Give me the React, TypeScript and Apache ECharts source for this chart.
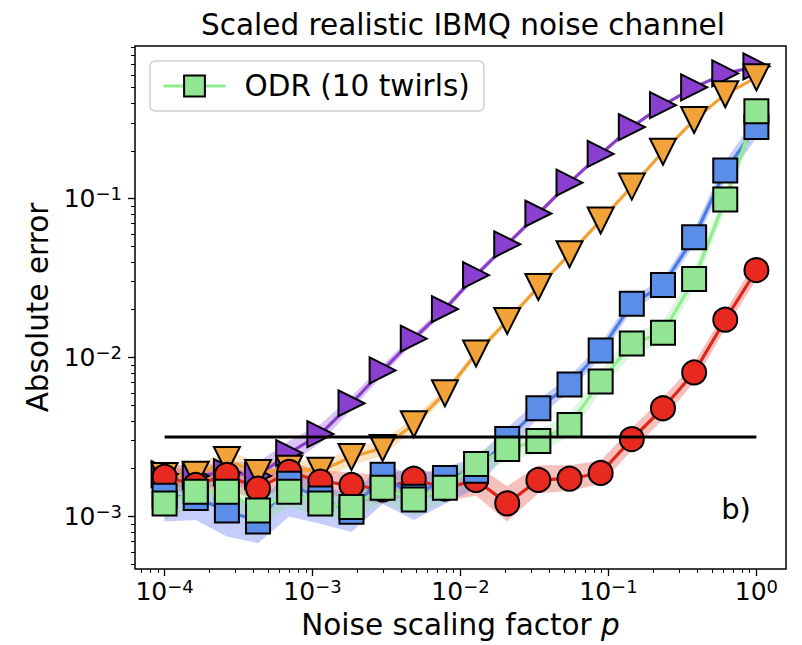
import React, { useEffect, useRef } from 'react';
import * as echarts from 'echarts';

// Noise scaling factor p (20 log-spaced points)
const P = [1.0e-4, 1.624e-4, 2.637e-4, 4.281e-4, 6.952e-4, 1.129e-3, 1.833e-3, 2.976e-3, 4.833e-3, 7.848e-3,
  1.274e-2, 2.069e-2, 3.36e-2, 5.456e-2, 8.859e-2, 0.1438, 0.2336, 0.3793, 0.6158, 1.0];

const purple = [0.00185, 0.0018, 0.0019, 0.0018, 0.00251, 0.0033, 0.00516, 0.0083, 0.01315, 0.0202,
  0.033, 0.0516, 0.0806, 0.126, 0.191, 0.282, 0.387, 0.501, 0.613, 0.678];
const purpleLo = [0.00155, 0.0015, 0.00155, 0.0015, 0.0021, 0.0029, 0.0047, 0.0077, 0.0124, 0.0192,
  0.0317, 0.0498, 0.0783, 0.123, 0.187, 0.277, 0.381, 0.495, 0.607, 0.672];
const purpleHi = [0.0021, 0.0021, 0.0022, 0.0022, 0.003, 0.0038, 0.0057, 0.009, 0.014, 0.0213,
  0.0344, 0.0535, 0.083, 0.129, 0.195, 0.287, 0.393, 0.507, 0.619, 0.684];

const orange = [0.0018, 0.00183, 0.00227, 0.00188, 0.002, 0.00194, 0.00237, 0.0027, 0.00381, 0.00596,
  0.0106, 0.017, 0.0278, 0.0447, 0.0729, 0.119, 0.197, 0.312, 0.453, 0.579];
const orangeLo = [0.00155, 0.00158, 0.00195, 0.0016, 0.0017, 0.00168, 0.0021, 0.0024, 0.0035, 0.0056,
  0.0101, 0.0163, 0.0269, 0.0435, 0.0712, 0.117, 0.194, 0.308, 0.448, 0.574];
const orangeHi = [0.0021, 0.0021, 0.0026, 0.0022, 0.0023, 0.0022, 0.0027, 0.003, 0.0042, 0.0064,
  0.0112, 0.0177, 0.0288, 0.046, 0.0747, 0.121, 0.2, 0.316, 0.458, 0.584];

const red = [0.00178, 0.00158, 0.00183, 0.0015, 0.00191, 0.00166, 0.00158, 0.00148, 0.00173, 0.0015,
  0.0017, 0.00121, 0.0017, 0.00173, 0.00188, 0.00307, 0.0048, 0.00806, 0.0173, 0.0355];
const redLo = [0.0015, 0.00135, 0.0015, 0.00125, 0.0016, 0.0014, 0.0013, 0.0012, 0.0014, 0.00125,
  0.00135, 0.00093, 0.0014, 0.00145, 0.0016, 0.0026, 0.0041, 0.007, 0.0152, 0.031];
const redHi = [0.0021, 0.0019, 0.00215, 0.0018, 0.0022, 0.00195, 0.0019, 0.0018, 0.00205, 0.0018,
  0.0021, 0.00155, 0.0021, 0.0021, 0.00225, 0.0036, 0.0056, 0.0092, 0.0196, 0.041];

const blue = [0.00135, 0.00131, 0.00109, 0.00093, 0.00161, 0.0013, 0.00107, 0.00183, 0.00133, 0.00175,
  0.00194, 0.00307, 0.0048, 0.00678, 0.01106, 0.0218, 0.0286, 0.0571, 0.15, 0.282];
const blueLo = [0.00093, 0.00095, 0.00075, 0.00068, 0.001, 0.0009, 0.0008, 0.0012, 0.00095, 0.0012,
  0.0015, 0.0025, 0.0042, 0.0061, 0.01, 0.0198, 0.0262, 0.051, 0.13, 0.24];
const blueHi = [0.0016, 0.00155, 0.00135, 0.0012, 0.00195, 0.0016, 0.00135, 0.00215, 0.0018, 0.00205,
  0.00235, 0.0036, 0.00545, 0.0076, 0.0122, 0.024, 0.0312, 0.064, 0.172, 0.33];

const green = [0.00121, 0.00143, 0.00143, 0.00109, 0.00143, 0.00121, 0.00115, 0.00152, 0.00128, 0.00152,
  0.00214, 0.00266, 0.00299, 0.00376, 0.00708, 0.01224, 0.01433, 0.0312, 0.0986, 0.355];
const greenLo = [0.00095, 0.00115, 0.00115, 0.0009, 0.00115, 0.001, 0.00095, 0.00125, 0.001, 0.00125,
  0.0018, 0.00225, 0.0025, 0.0032, 0.0061, 0.0105, 0.0122, 0.027, 0.085, 0.31];
const greenHi = [0.0015, 0.0017, 0.0017, 0.00135, 0.0017, 0.00145, 0.0014, 0.0018, 0.00155, 0.0018,
  0.0025, 0.00315, 0.0035, 0.0044, 0.0082, 0.0142, 0.0168, 0.036, 0.112, 0.4];

const REF_LEVEL = 0.00316;
const X_MAJOR = [1e-4, 1e-3, 1e-2, 1e-1, 1];
const Y_MAJOR = [1e-3, 1e-2, 1e-1];
const LEGEND_LABEL = 'ODR (10 twirls)';

const X_MIN = -4.2, X_MAX = 0.2, Y_MIN = -3.33, Y_MAX = -0.04;
const FONT = 'DejaVu Sans';

const lg = (v: number) => Math.log10(v);

function minorTicks(lo: number, hi: number) {
  const out: number[] = [];
  for (let e = -6; e <= 1; e++) {
    for (let k = 2; k <= 9; k++) {
      const v = Math.log10(k) + e;
      if (v > lo && v < hi) out.push(v);
    }
  }
  return out;
}

const supLabel = (v: number) => {
  const e = Math.round(v);
  return `{b|10}{s|${e < 0 ? '\u2212' + -e : e}}`;
};

const labelRich = {
  b: { fontSize: 25, fontFamily: FONT, color: '#000', lineHeight: 29 },
  s: { fontSize: 18, fontFamily: FONT, color: '#000', lineHeight: 14, verticalAlign: 'top' },
};

function band(name: string, lo: number[], hi: number[], color: string) {
  return {
    type: 'custom',
    name: name + ' band',
    z: 1,
    silent: true,
    clip: true,
    data: [[-2, -2]],
    renderItem: (_params: any, api: any) => {
      const pts: number[][] = [];
      for (let i = 0; i < P.length; i++) pts.push(api.coord([lg(P[i]), lg(hi[i])]));
      for (let i = P.length - 1; i >= 0; i--) pts.push(api.coord([lg(P[i]), lg(lo[i])]));
      return { type: 'polygon', shape: { points: pts }, style: { fill: color, stroke: 'none' } };
    },
  };
}

function line(name: string, vals: number[], lineColor: string, fill: string, symbol: string, size: number, rotate = 0) {
  return {
    type: 'line',
    name,
    z: 3,
    data: P.map((p, i) => [lg(p), lg(vals[i])]),
    symbol,
    symbolSize: size,
    symbolRotate: rotate,
    showAllSymbol: true,
    lineStyle: { color: lineColor, width: 3.2 },
    itemStyle: { color: fill, borderColor: '#000', borderWidth: 2 },
    emphasis: { disabled: true },
  };
}

export default function App() {
  const ref = useRef<HTMLDivElement>(null);
  useEffect(() => {
    if (!ref.current) return;
    const chart = echarts.init(ref.current, null, { renderer: 'svg' });
    const xMinor = minorTicks(X_MIN, X_MAX);
    const yMinor = minorTicks(Y_MIN, Y_MAX);
    const option: any = {
      animation: false,
      textStyle: { fontFamily: FONT },
      title: {
        text: 'Scaled realistic IBMQ noise channel',
        left: 458,
        textAlign: 'center',
        top: 5,
        textStyle: { fontSize: 29.5, fontWeight: 'normal', fontFamily: FONT, color: '#000' },
      },
      legend: {
        data: [LEGEND_LABEL],
        left: 150,
        top: 61,
        orient: 'vertical',
        padding: [10, 14, 10, 12],
        itemWidth: 62,
        itemHeight: 26,
        borderColor: '#d0d0d0',
        borderWidth: 1.5,
        borderRadius: 5,
        backgroundColor: 'rgba(255,255,255,0.8)',
        lineStyle: { width: 3 },
        textStyle: { fontSize: 29.5, fontFamily: FONT, color: '#000', padding: [0, 0, 0, 14] },
      },
      grid: {
        left: 135, top: 46, width: 651, height: 526,
        show: true, borderColor: '#000', borderWidth: 1.5, backgroundColor: 'transparent',
      },
      xAxis: [
        {
          type: 'value', min: X_MIN, max: X_MAX,
          axisLine: { show: false, onZero: false },
          splitLine: { show: false },
          axisTick: { show: true, customValues: X_MAJOR.map(lg), length: 7, lineStyle: { color: '#000', width: 1.3 } },
          axisLabel: { customValues: X_MAJOR.map(lg), formatter: supLabel, rich: labelRich, margin: 8 },
          name: 'Noise scaling factor {i|p}',
          nameLocation: 'middle',
          nameGap: 41,
          nameTextStyle: { fontSize: 29.5, fontFamily: FONT, color: '#000', rich: { i: { fontSize: 29.5, fontStyle: 'italic', fontFamily: FONT } } },
        },
        {
          type: 'value', min: X_MIN, max: X_MAX, position: 'bottom',
          axisLine: { show: false, onZero: false }, splitLine: { show: false },
          axisTick: { show: true, customValues: xMinor, length: 4, lineStyle: { color: '#000', width: 1 } },
          axisLabel: { show: false },
        },
      ],
      yAxis: [
        {
          type: 'value', min: Y_MIN, max: Y_MAX,
          axisLine: { show: false, onZero: false },
          splitLine: { show: false },
          axisTick: { show: true, customValues: Y_MAJOR.map(lg), length: 7, lineStyle: { color: '#000', width: 1.3 } },
          axisLabel: { customValues: Y_MAJOR.map(lg), formatter: supLabel, rich: labelRich, margin: 13 },
          name: 'Absolute error',
          nameLocation: 'middle',
          nameRotate: 90,
          nameGap: 80,
          nameTextStyle: { fontSize: 29.5, fontFamily: FONT, color: '#000' },
        },
        {
          type: 'value', min: Y_MIN, max: Y_MAX, position: 'left',
          axisLine: { show: false, onZero: false }, splitLine: { show: false },
          axisTick: { show: true, customValues: yMinor, length: 4, lineStyle: { color: '#000', width: 1 } },
          axisLabel: { show: false },
        },
      ],
      series: [
        band('purple', purpleLo, purpleHi, 'rgba(140,70,225,0.32)'),
        band('orange', orangeLo, orangeHi, 'rgba(245,168,55,0.32)'),
        band('red', redLo, redHi, 'rgba(232,45,35,0.3)'),
        band('blue', blueLo, blueHi, 'rgba(85,110,240,0.34)'),
        band('green', greenLo, greenHi, 'rgba(130,225,130,0.28)'),
        line('purple', purple, '#8a3dc8', '#8b3fd1', 'triangle', 26, -90),
        line('orange', orange, '#f0a035', '#f1a33a', 'triangle', 26, 180),
        line('red', red, '#e0241a', '#e8291f', 'circle', 24),
        line('blue', blue, '#4a7ee6', '#5b8ee8', 'rect', 24),
        line(LEGEND_LABEL, green, '#90ee90', '#92e592', 'rect', 24),
        {
          type: 'line', name: 'reference', z: 4, symbol: 'none',
          data: [[lg(P[0]), lg(REF_LEVEL)], [lg(P[P.length - 1]), lg(REF_LEVEL)]],
          lineStyle: { color: '#000', width: 3 },
          emphasis: { disabled: true },
        },
      ],
      graphic: [
        {
          type: 'text', x: 736, y: 509, z: 10,
          style: { text: 'b)', fontSize: 29, fontFamily: FONT, fill: '#000', align: 'center', verticalAlign: 'middle' },
        },
      ],
    };
    chart.setOption(option);
    return () => chart.dispose();
  }, []);
  return <div ref={ref} style={{ position: 'fixed', left: 0, top: 0, width: 802, height: 645, background: '#fff' }} />;
}
